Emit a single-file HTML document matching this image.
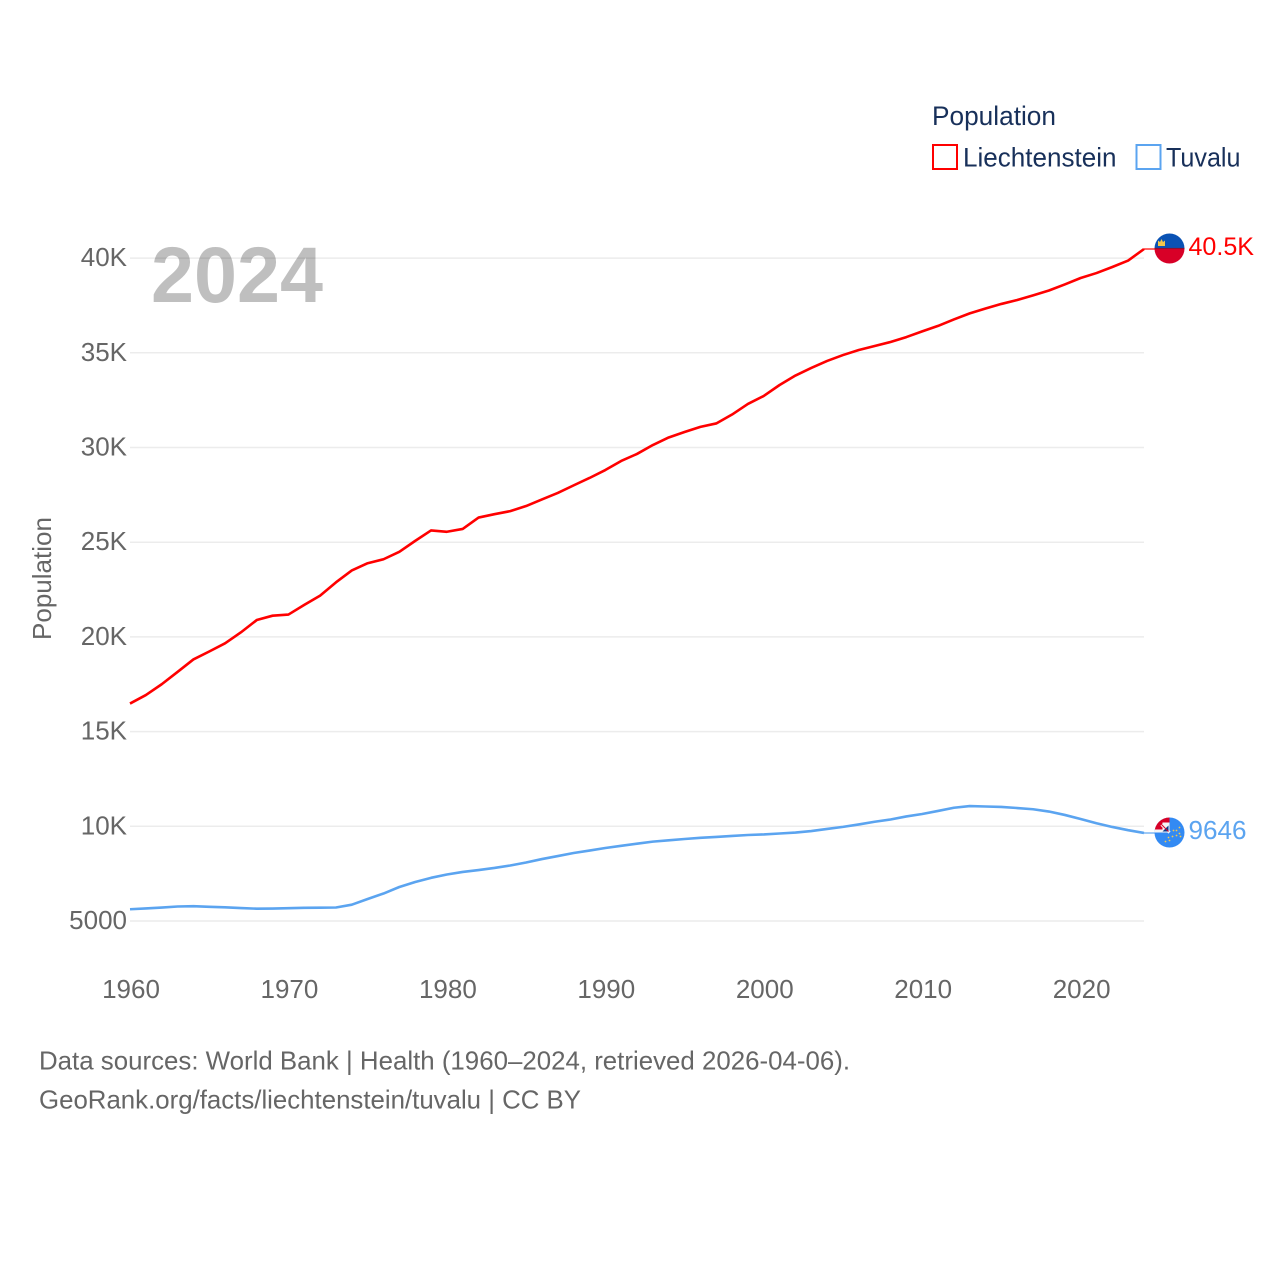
<!DOCTYPE html>
<html lang="en">
<head>
<meta charset="utf-8">
<title>Population: Liechtenstein and Tuvalu</title>
<style>
html,body{margin:0;padding:0;background:#fff;}
svg{display:block;font-family:"Liberation Sans",sans-serif;}
</style>
</head>
<body>
<svg id="chart" width="1280" height="1280" viewBox="0 0 1280 1280" xmlns="http://www.w3.org/2000/svg">
  <rect width="1280" height="1280" fill="#fff"/>
  <g id="grid"></g>
  <text x="151" y="302" font-size="79" font-weight="700" fill="#000" fill-opacity="0.25" textLength="172" lengthAdjust="spacingAndGlyphs">2024</text>
  <g id="yticks"></g>
  <g id="xticks"></g>
  <text transform="translate(51,640) rotate(-90)" font-size="26" fill="#666" textLength="123" lengthAdjust="spacingAndGlyphs">Population</text>
  <g id="series"></g>
  <g id="flags"></g>
  <g>
    <text x="932" y="125" font-size="27" fill="#18305a" textLength="124" lengthAdjust="spacingAndGlyphs">Population</text>
    <g>
      <rect x="933" y="145" width="24" height="24" fill="#fff" stroke="#ff0000" stroke-width="2"/>
      <text x="963" y="166.500" font-size="27" fill="#18305a" textLength="153.500" lengthAdjust="spacingAndGlyphs">Liechtenstein</text>
    </g>
    <g>
      <rect x="1136.500" y="145" width="24" height="24" fill="#fff" stroke="#5ba4f0" stroke-width="2"/>
      <text x="1166" y="166.500" font-size="27" fill="#18305a" textLength="74.500" lengthAdjust="spacingAndGlyphs">Tuvalu</text>
    </g>
  </g>
  <g>
    <text x="39" y="1069.500" font-size="26" fill="#666" textLength="811" lengthAdjust="spacingAndGlyphs">Data sources: World Bank | Health (1960–2024, retrieved 2026-04-06).</text>
    <text x="39" y="1108.500" font-size="26" fill="#666" textLength="542" lengthAdjust="spacingAndGlyphs">GeoRank.org/facts/liechtenstein/tuvalu | CC BY</text>
  </g>
</svg>
<script>
const startYear = 1960;
const endYear = 2024;
const yTickValues = [5000, 10000, 15000, 20000, 25000, 30000, 35000, 40000];
const yTickLabels = ["5000", "10K", "15K", "20K", "25K", "30K", "35K", "40K"];
const xTickYears = [1960, 1970, 1980, 1990, 2000, 2010, 2020];
const liechtensteinValues = [
  16480, 16930, 17500, 18150, 18810, 19230, 19660, 20240, 20890, 21120,
  21180, 21690, 22180, 22880, 23510, 23890, 24100, 24490, 25070, 25620,
  25550, 25700, 26300, 26480, 26640, 26910, 27260, 27600, 28000, 28390,
  28810, 29290, 29660, 30130, 30530, 30820, 31090, 31270, 31740, 32300,
  32720, 33300, 33800, 34200, 34570, 34880, 35150, 35360, 35570, 35830,
  36130, 36420, 36760, 37080, 37340, 37580, 37790, 38030, 38290, 38610,
  38950, 39210, 39530, 39870, 40480
];
const tuvaluValues = [
  5620, 5665, 5710, 5765, 5780, 5750, 5720, 5685, 5650, 5655,
  5675, 5695, 5705, 5713, 5860, 6160, 6450, 6795, 7060, 7280,
  7455, 7590, 7690, 7800, 7930, 8090, 8270, 8430, 8590, 8720,
  8855, 8970, 9080, 9190, 9260, 9330, 9390, 9440, 9490, 9540,
  9570, 9620, 9670, 9750, 9860, 9970, 10100, 10240, 10360, 10520,
  10650, 10810, 10980, 11070, 11045, 11020, 10965, 10900, 10780, 10600,
  10385, 10160, 9965, 9795, 9646
];
const liechtensteinEndLabel = "40.5K";
const tuvaluEndLabel = "9646";

const NS = "http://www.w3.org/2000/svg";
const plotLeft = 130, plotRight = 1144;
function xScale(year) {
  return plotLeft + (year - startYear) * (plotRight - plotLeft) / (endYear - startYear);
}
function yScale(value) {
  return 921 - (value - 5000) * 0.01894;
}
function make(parent, tag, attrs, text) {
  const el = document.createElementNS(NS, tag);
  for (const k in attrs) el.setAttribute(k, attrs[k]);
  if (text !== undefined) el.textContent = text;
  parent.appendChild(el);
  return el;
}
const grid = document.getElementById("grid");
const yticks = document.getElementById("yticks");
const xticks = document.getElementById("xticks");
const series = document.getElementById("series");
const flags = document.getElementById("flags");

yTickValues.forEach(function (v, i) {
  const line = make(grid, "line", {x1: plotLeft, x2: plotRight, y1: yScale(v), y2: yScale(v), stroke: "#ececec", "stroke-width": 1.5});
  
  
  const label = make(yticks, "text", {x: 127, y: yScale(v) + 8, "text-anchor": "end", "font-size": 26, fill: "#666"}, yTickLabels[i]);
  
  
});
xTickYears.forEach(function (yr) {
  const label = make(xticks, "text", {x: xScale(yr) + 1, y: 998, "text-anchor": "middle", "font-size": 26, fill: "#666"}, String(yr));
  
  
});
function linePoints(values) {
  return values.map(function (v, i) {
    return xScale(startYear + i).toFixed(2) + "," + yScale(v).toFixed(2);
  }).join(" ");
}
const redLine = make(series, "polyline", {points: linePoints(liechtensteinValues), fill: "none", stroke: "#ff0000", "stroke-width": 2.6, "stroke-linejoin": "round"});


const blueLine = make(series, "polyline", {points: linePoints(tuvaluValues), fill: "none", stroke: "#5ba4f0", "stroke-width": 2.6, "stroke-linejoin": "round"});



const redEndY = yScale(liechtensteinValues[liechtensteinValues.length - 1]);
const blueEndY = yScale(tuvaluValues[tuvaluValues.length - 1]);
const redConnector = make(series, "line", {x1: plotRight, x2: 1156, y1: redEndY, y2: redEndY, stroke: "#ff0000", "stroke-width": 1.2});


const blueConnector = make(series, "line", {x1: plotRight, x2: 1156, y1: blueEndY, y2: blueEndY, stroke: "#5ba4f0", "stroke-width": 1.2});



const defs = make(flags, "defs", {});
const clip = make(defs, "clipPath", {id: "flag-clip"});
make(clip, "circle", {cx: 0, cy: 0, r: 15});

// Liechtenstein flag
const fl = make(flags, "g", {transform: "translate(1169.5," + (redEndY - 0.5) + ")", "clip-path": "url(#flag-clip)"});


make(fl, "rect", {x: -15, y: -15, width: 30, height: 15, fill: "#0a52b4"});
make(fl, "rect", {x: -15, y: 0, width: 30, height: 15, fill: "#d80027"});
make(fl, "rect", {x: -15, y: -0.6, width: 30, height: 1.2, fill: "#8c1030"});
make(fl, "path", {d: "M-11.500-2.500V-8l2 1.500 1.500-3 1.500 3 2-1.500v5.500z", fill: "#f2c64a"});

// Tuvalu flag
const ft = make(flags, "g", {transform: "translate(1169.5," + (blueEndY - 0.5) + ")", "clip-path": "url(#flag-clip)"});


make(ft, "rect", {x: -15, y: -15, width: 30, height: 30, fill: "#338af3"});
make(ft, "rect", {x: -15, y: -15, width: 15, height: 15, fill: "#f4f4f4"});
make(ft, "path", {d: "M-15-15H0V-10H-7V-3H-15z", fill: "#d80027"});
make(ft, "path", {d: "M-8-8L0 0", stroke: "#f4f4f4", "stroke-width": 3, fill: "none"});
make(ft, "path", {d: "M-7-1H-1L-1-7z", fill: "#0a3a8c"});
make(ft, "path", {d: "M-8-8L-1-1", stroke: "#d80027", "stroke-width": 1, fill: "none"});
[[10, -5], [7, -2], [4, -2], [10, 1], [7, 3], [3, 4], [0, 8], [-4, 9], [-1, 5], [11, 4]].forEach(function (s) {
  make(ft, "circle", {cx: s[0], cy: s[1], r: 0.9, fill: "#f5c84f"});
});

const redLabel = make(flags, "text", {x: 1188.5, y: redEndY + 6, "font-size": 25, fill: "#ff0000", textLength: 65.5, lengthAdjust: "spacingAndGlyphs"}, liechtensteinEndLabel);


const blueLabel = make(flags, "text", {x: 1188.5, y: blueEndY + 6, "font-size": 26, fill: "#5ba4f0", textLength: 58, lengthAdjust: "spacingAndGlyphs"}, tuvaluEndLabel);


</script>
</body>
</html>
